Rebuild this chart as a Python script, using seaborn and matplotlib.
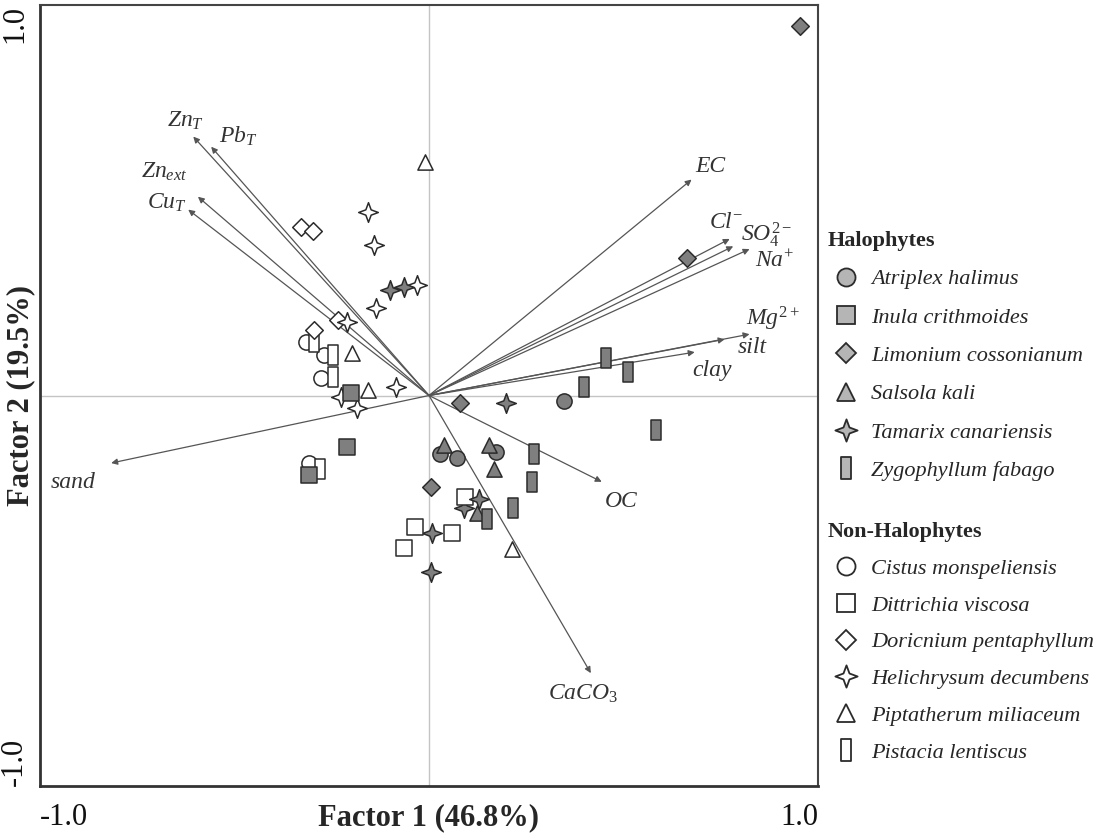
import numpy as np
import pandas as pd
import matplotlib
matplotlib.use("Agg")
import matplotlib.pyplot as plt
from matplotlib.path import Path
from matplotlib.lines import Line2D
import seaborn as sns

# loadings of soil variables (arrow tips)
var_labels = [r"$Zn_T$", r"$Pb_T$", r"$Zn_{ext}$", r"$Cu_T$", "sand", "EC",
              r"$Cl^{-}$", r"$SO_4^{2-}$", r"$Na^{+}$", r"$Mg^{2+}$",
              "silt", "clay", "OC", r"$CaCO_3$"]
load_f1 = [-0.606, -0.560, -0.594, -0.619, -0.817, 0.675, 0.773, 0.782,
           0.824, 0.824, 0.760, 0.683, 0.444, 0.416]
load_f2 = [0.663, 0.637, 0.509, 0.476, -0.173, 0.553, 0.401, 0.382,
           0.375, 0.157, 0.144, 0.111, -0.221, -0.711]

# sample scores per species
atriplex_x = [0.347, 0.029, 0.071, 0.171]
atriplex_y = [-0.013, -0.150, -0.159, -0.144]
inula_x = [-0.201, -0.212, -0.308]
inula_y = [0.006, -0.131, -0.204]
limonium_x = [0.954, 0.662, 0.079, 0.006]
limonium_y = [0.947, 0.353, -0.020, -0.234]
salsola_x = [0.038, 0.155, 0.166, 0.124]
salsola_y = [-0.127, -0.127, -0.187, -0.302]
tamarix_x = [-0.099, -0.063, 0.199, 0.089, 0.008, 0.004]
tamarix_y = [0.271, 0.279, -0.018, -0.289, -0.353, -0.452]
zygo_x = [0.454, 0.512, 0.399, 0.583, 0.271, 0.266, 0.217, 0.149]
zygo_y = [0.097, 0.059, 0.023, -0.088, -0.150, -0.221, -0.289, -0.317]

cistus_x = [-0.317, -0.270, -0.278, -0.308]
cistus_y = [0.138, 0.104, 0.044, -0.174]
dittrichia_x = [-0.035, -0.065, 0.092, 0.059]
dittrichia_y = [-0.336, -0.390, -0.261, -0.353]
doricnium_x = [-0.329, -0.299, -0.235, -0.295]
doricnium_y = [0.431, 0.420, 0.194, 0.168]
helichrysum_x = [-0.158, -0.142, -0.030, -0.137, -0.210, -0.084, -0.227, -0.186]
helichrysum_y = [0.471, 0.386, 0.283, 0.224, 0.189, 0.023, -0.003, -0.033]
piptatherum_x = [-0.009, -0.197, -0.158, 0.213]
piptatherum_y = [0.599, 0.108, 0.014, -0.392]
pistacia_x = [-0.295, -0.247, -0.246, -0.280]
pistacia_y = [0.138, 0.104, 0.047, -0.189]

tamarix2_x = [0.128]   # grey star drawn on top of the white square
tamarix2_y = [-0.264]

halophytes = ["Atriplex halimus", "Inula crithmoides", "Limonium cossonianum",
              "Salsola kali", "Tamarix canariensis", "Zygophyllum fabago"]
non_halophytes = ["Cistus monspeliensis", "Dittrichia viscosa",
                  "Doricnium pentaphyllum", "Helichrysum decumbens",
                  "Piptatherum miliaceum", "Pistacia lentiscus"]

star = Path([(0, 1), (0.27, 0.27), (1, 0), (0.27, -0.27), (0, -1), (-0.27, -0.27),
             (-1, 0), (-0.27, 0.27), (0, 1)],
            [Path.MOVETO] + [Path.LINETO] * 7 + [Path.CLOSEPOLY])
tall = Path([(-0.48, -1), (0.48, -1), (0.48, 1), (-0.48, 1), (-0.48, -1)],
            [Path.MOVETO] + [Path.LINETO] * 3 + [Path.CLOSEPOLY])
shape = {"o": ("o", 120), "s": ("s", 120), "D": ("D", 80), "^": ("^", 120),
         "star": (star, 200), "tall": (tall, 190)}

# label offsets from arrow tips (layout only)
label_off = [(-0.02, 0.04), (0.07, 0.026), (-0.086, 0.064), (-0.054, 0.018),
             (-0.097, -0.049), (0.047, 0.033), (-0.01, 0.043), (0.085, 0.029),
             (0.065, -0.03), (0.059, 0.039), (0.07, -0.022), (0.044, -0.046),
             (0.05, -0.05), (-0.019, -0.052)]

sns.set_style("white")
plt.rcParams["font.family"] = ["Liberation Serif", "DejaVu Serif"]
plt.rcParams["mathtext.fontset"] = "custom"
plt.rcParams["mathtext.rm"] = "Liberation Serif"
plt.rcParams["mathtext.it"] = "Liberation Serif:italic"
plt.rcParams["mathtext.bf"] = "Liberation Serif:bold"

fig = plt.figure(figsize=(11.08, 8.4), dpi=100)
ax = fig.add_axes([40 / 1108, 1 - 786 / 840, 778 / 1108, 781 / 840])

ax.axhline(0, color="#c4c4c4", lw=1, zorder=0)
ax.axvline(0, color="#c4c4c4", lw=1, zorder=0)

for i in range(len(var_labels)):
    ax.annotate("", xy=(load_f1[i], load_f2[i]), xytext=(0, 0),
                arrowprops=dict(arrowstyle="-|>", color="#555555", lw=0.9,
                                mutation_scale=9, shrinkA=0, shrinkB=0),
                zorder=1)
    ax.text(load_f1[i] + label_off[i][0], load_f2[i] + label_off[i][1],
            var_labels[i], fontsize=17, style="italic", color="#333333",
            ha="center", va="center")

GREY = "#7f7f7f"
EDGE = "#2b2b2b"
groups = [
    (cistus_x, cistus_y, "o", "white"),
    (pistacia_x, pistacia_y, "tall", "white"),
    (doricnium_x, doricnium_y, "D", "white"),
    (piptatherum_x, piptatherum_y, "^", "white"),
    (helichrysum_x, helichrysum_y, "star", "white"),
    (inula_x, inula_y, "s", GREY),
    (atriplex_x, atriplex_y, "o", GREY),
    (salsola_x, salsola_y, "^", GREY),
    (limonium_x, limonium_y, "D", GREY),
    (tamarix_x, tamarix_y, "star", GREY),
    (dittrichia_x, dittrichia_y, "s", "white"),
    (tamarix2_x, tamarix2_y, "star", GREY),
    (zygo_x, zygo_y, "tall", GREY),
]
for k, (gx, gy, m, fc) in enumerate(groups):
    df = pd.DataFrame({"f1": gx, "f2": gy})
    mk, sz = shape[m]
    sns.scatterplot(data=df, x="f1", y="f2", marker=mk, s=sz, color=fc,
                    edgecolor=EDGE, linewidth=1.1, ax=ax, zorder=3 + k * 0.01)

ax.set_xlim(-1, 1)
ax.set_ylim(-1, 1)
ax.set_xticks([-1, -0.5, 0, 0.5, 1], ["-1.0", "", "", "", "1.0"])
ax.set_yticks([-1, -0.5, 0, 0.5, 1], ["-1.0", "", "", "", "1.0"])
ax.tick_params(axis="both", direction="out", length=4, width=1.2,
               color="#333333", labelsize=22, labelcolor="#111111")
ax.tick_params(axis="x", pad=8)
ax.tick_params(axis="y", pad=4)
xt = ax.get_xticklabels()
xt[0].set_ha("left")
xt[-1].set_ha("right")
for t in ax.get_yticklabels():
    t.set_rotation(90)
    t.set_rotation_mode("anchor")
yt = ax.get_yticklabels()
yt[0].set_ha("left")
yt[0].set_va("bottom")
yt[-1].set_ha("right")
yt[-1].set_va("bottom")

for side in ["left", "bottom"]:
    ax.spines[side].set_linewidth(2)
    ax.spines[side].set_color("#333333")
for side in ["top", "right"]:
    ax.spines[side].set_linewidth(1.5)
    ax.spines[side].set_color("#444444")

ax.set_xlabel("Factor 1 (46.8%)", fontsize=22, fontweight="bold")
ax.set_ylabel("Factor 2 (19.5%)", fontsize=22, fontweight="bold")
ax.xaxis.set_label_coords(0.5, -0.022)
ax.yaxis.set_label_coords(-0.006, 0.5)

# legends
leg_msize = {"o": 13, "s": 13, "D": 10, "^": 13, "star": 16, "tall": 16}


def make_handles(markers, fc):
    hs = []
    for m in markers:
        hs.append(Line2D([], [], linestyle="none", marker=shape[m][0],
                         markersize=leg_msize[m], markerfacecolor=fc,
                         markeredgecolor=EDGE, markeredgewidth=1.3))
    return hs


common = dict(frameon=False, loc="upper left", borderpad=0, borderaxespad=0,
              handlelength=1.6, handletextpad=0.35,
              alignment="left",
              prop={"family": "Liberation Serif", "style": "italic", "size": 16},
              title_fontproperties={"family": "Liberation Serif",
                                    "weight": "bold", "size": 16})
leg1 = fig.legend(make_handles(["o", "s", "D", "^", "star", "tall"], "#b5b5b5"),
                  halophytes, title="Halophytes", labelspacing=0.8,
                  bbox_to_anchor=(828 / 1108, 1 - 231 / 840), **common)
leg2 = fig.legend(make_handles(["o", "s", "D", "star", "^", "tall"], "white"),
                  non_halophytes, title="Non-Halophytes", labelspacing=0.73,
                  bbox_to_anchor=(828 / 1108, 1 - 522 / 840), **common)

fig.savefig("out.png", dpi=100)
